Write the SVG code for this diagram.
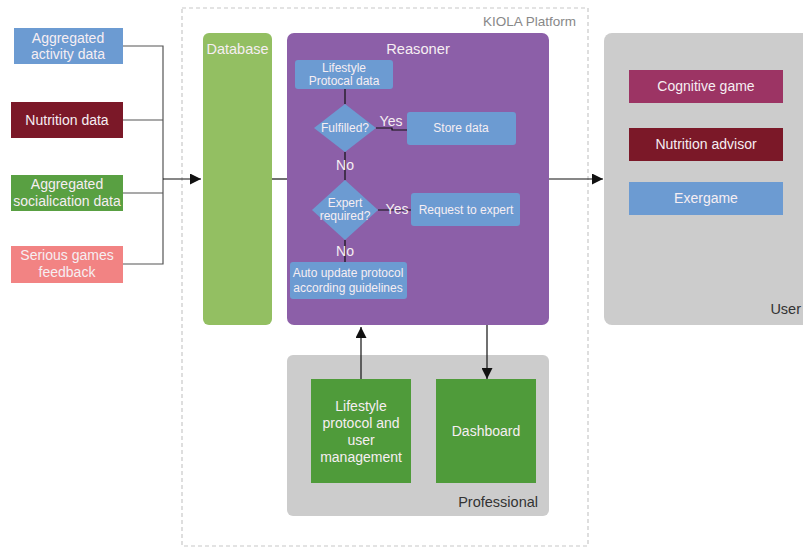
<svg xmlns="http://www.w3.org/2000/svg" width="803" height="548" viewBox="0 0 803 548">
<defs>
<marker id="ahb" viewBox="0 0 10 10" refX="10" refY="5" markerWidth="11" markerHeight="11" markerUnits="userSpaceOnUse" orient="auto">
<path d="M0,0 L10,5 L0,10 z" fill="#111"/>
</marker>
</defs>
<style>
text{font-family:"Liberation Sans",Arial,sans-serif;}
.lt{fill:#f6eef2;font-size:14px;text-anchor:middle;}
.st{fill:#f6eef2;font-size:12px;text-anchor:middle;}
.dk{fill:#333;font-size:14.5px;text-anchor:end;}
.ln{stroke:#555;stroke-width:1.2;fill:none;}
.bl{stroke:#111;stroke-width:1.2;fill:none;}
.blue{fill:#6c9bd2;}
</style>
<rect width="803" height="548" fill="#fff"/>
<g id="kiola">
<rect x="182" y="8" width="406" height="538" fill="none" stroke="#c8c8c8" stroke-width="1.2" stroke-dasharray="4,3"/>
<text x="576" y="26" font-size="13.5" fill="#888" text-anchor="end">KIOLA Platform</text>
</g>
<g id="user">
<rect x="604" y="33" width="210" height="292" rx="8" fill="#cccccc"/>
<text class="dk" x="801" y="314">User</text>
</g>
<g id="professional">
<rect x="287" y="355" width="262" height="161" rx="6" fill="#cccccc"/>
<text class="dk" x="538" y="507">Professional</text>
</g>
<g id="database">
<rect x="203" y="33" width="69" height="292" rx="6" fill="#93bf62"/>
<text x="237.5" y="54" font-size="14.5" fill="#f6eef2" text-anchor="middle">Database</text>
</g>
<g id="reasoner">
<rect x="287" y="33" width="262" height="292" rx="7" fill="#8c5fa8"/>
<text x="418" y="54" font-size="14.7" fill="#f6eef2" text-anchor="middle">Reasoner</text>
</g>
<g id="connectors">
<polyline class="ln" points="123,46 163,46 163,264 123,264"/>
<line class="ln" x1="123" y1="120" x2="163" y2="120"/>
<line class="ln" x1="123" y1="193" x2="163" y2="193"/>
<line class="bl" x1="163" y1="179" x2="201" y2="179" marker-end="url(#ahb)"/>
<line class="bl" x1="272" y1="179" x2="287" y2="179"/>
<line class="bl" x1="549" y1="179" x2="603" y2="179" marker-end="url(#ahb)"/>
<line class="bl" x1="361" y1="379" x2="361" y2="327" marker-end="url(#ahb)"/>
<line class="bl" x1="487" y1="325" x2="487" y2="379" marker-end="url(#ahb)"/>
<line class="bl" x1="345" y1="89" x2="345" y2="104"/>
<line class="bl" x1="345" y1="152" x2="345" y2="180"/>
<line class="bl" x1="345" y1="240" x2="345" y2="262"/>
<polyline class="bl" points="376,128 392,128 392,130 407,130"/>
<line class="bl" x1="378" y1="210" x2="411" y2="210"/>
</g>
<g id="n-activity">
<rect x="14" y="28" width="109" height="36" fill="#6c9bd2"/>
<text class="lt" x="68" y="43">Aggregated</text>
<text class="lt" x="68" y="59">activity data</text>
</g>
<g id="n-nutrition">
<rect x="11" y="102" width="112" height="36" fill="#7b1828"/>
<text class="lt" x="67" y="125">Nutrition data</text>
</g>
<g id="n-social">
<rect x="11" y="175" width="112" height="36" fill="#59a042"/>
<text class="lt" x="67" y="189">Aggregated</text>
<text class="lt" x="67" y="206">socialication data</text>
</g>
<g id="n-serious">
<rect x="11" y="246" width="112" height="37" fill="#f28383"/>
<text class="lt" x="67" y="260">Serious games</text>
<text class="lt" x="67" y="277">feedback</text>
</g>
<g id="n-lifestyle-data">
<rect x="295" y="60" width="98" height="29" rx="3" class="blue"/>
<text class="st" x="344" y="72">Lifestyle</text>
<text class="st" x="344" y="85">Protocal data</text>
</g>
<g id="n-fulfilled">
<polygon points="345,104 376,128 345,152 314,128" class="blue"/>
<text class="st" x="345" y="132">Fulfilled?</text>
<text class="lt" x="391" y="126">Yes</text>
</g>
<g id="n-store">
<rect x="407" y="112" width="109" height="33" rx="3" class="blue"/>
<text class="st" x="461" y="132">Store data</text>
</g>
<text class="lt" x="345" y="170">No</text>
<g id="n-expert">
<polygon points="345,180 378,210 345,240 312,210" class="blue"/>
<text class="st" x="345" y="207">Expert</text>
<text class="st" x="345" y="220">required?</text>
<text class="lt" x="397" y="214">Yes</text>
</g>
<g id="n-request">
<rect x="411" y="193" width="109" height="33" rx="3" class="blue"/>
<text class="st" x="466" y="214">Request to expert</text>
</g>
<text class="lt" x="345" y="256">No</text>
<g id="n-auto">
<rect x="290" y="262" width="117" height="37" rx="3" class="blue"/>
<text class="st" x="348" y="277">Auto update protocol</text>
<text class="st" x="348" y="292">according guidelines</text>
</g>
<g id="n-lifestyle-mgmt">
<rect x="311" y="379" width="100" height="104" fill="#4f9b3a"/>
<text class="lt" x="361" y="411">Lifestyle</text>
<text class="lt" x="361" y="428">protocol and</text>
<text class="lt" x="361" y="445">user</text>
<text class="lt" x="361" y="462">management</text>
</g>
<g id="n-dashboard">
<rect x="436" y="379" width="100" height="104" fill="#4f9b3a"/>
<text class="lt" x="486" y="436">Dashboard</text>
</g>
<g id="n-cognitive">
<rect x="629" y="70" width="154" height="33" fill="#9c3464"/>
<text class="lt" x="706" y="91">Cognitive game</text>
</g>
<g id="n-advisor">
<rect x="629" y="128" width="154" height="33" fill="#7b1828"/>
<text class="lt" x="706" y="149">Nutrition advisor</text>
</g>
<g id="n-exergame">
<rect x="629" y="182" width="154" height="33" fill="#6c9bd2"/>
<text class="lt" x="706" y="203">Exergame</text>
</g>
</svg>
